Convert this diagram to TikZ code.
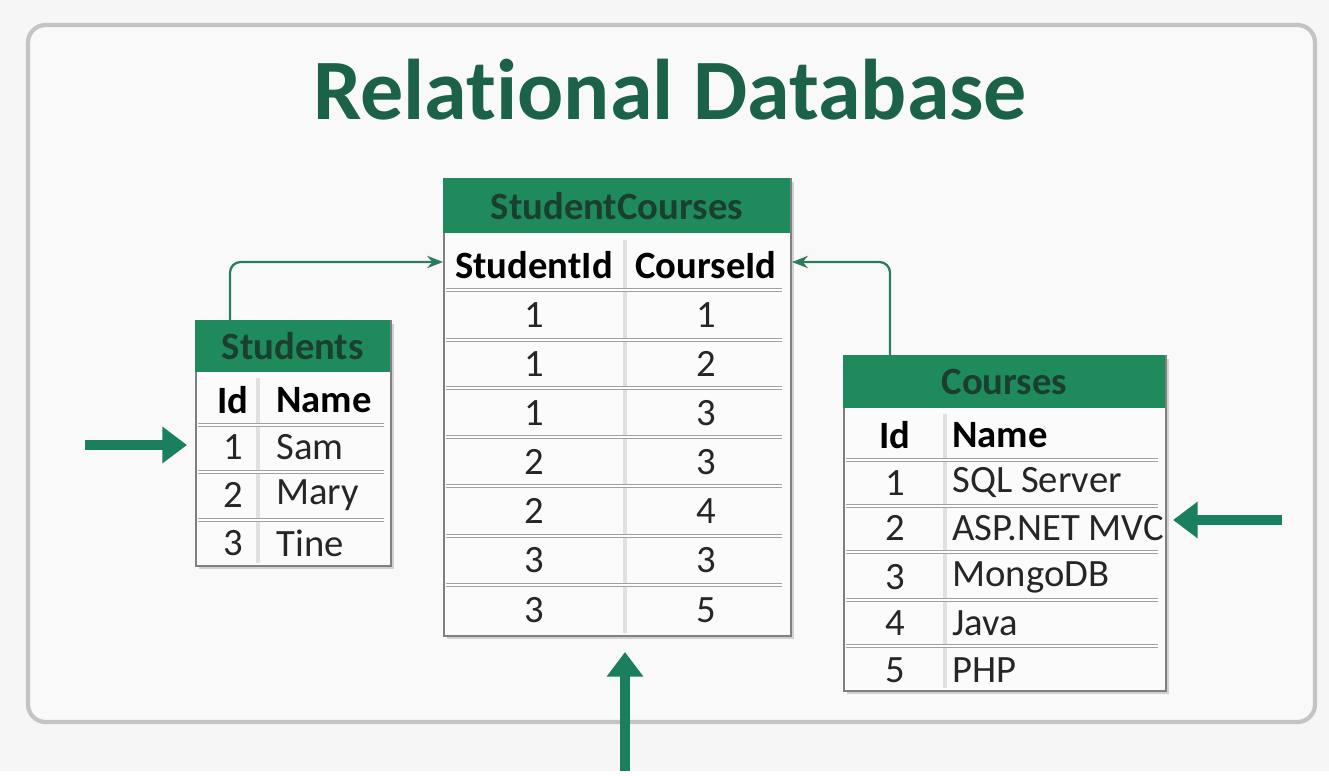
\documentclass[tikz,border=0pt]{standalone}
\usepackage{fontspec}
\setmainfont{Carlito}[Ligatures={NoCommon}]
\usetikzlibrary{arrows.meta,calc}
\definecolor{bg}{HTML}{F6F6F6}
\definecolor{hdr}{HTML}{1F8A5B}
\definecolor{hdrtxt}{HTML}{1B3F2E}
\definecolor{ttl}{HTML}{1B6248}
\definecolor{arr}{HTML}{1A7F5E}
\definecolor{conn}{HTML}{2E7A5C}
\definecolor{grid}{HTML}{A0A0A0}
\definecolor{frame}{HTML}{C4C4C4}
\begin{document}
\begin{tikzpicture}[x=0.02cm,y=-0.02cm,
  tbl/.style={draw=grid!80!black,line width=1.2pt,fill=white!60!bg,anchor=north west,inner sep=0pt},
  shadowbox/.style={fill=black!18,draw=none,anchor=north west,inner sep=0pt},
  hdrbox/.style={fill=hdr,draw=none,anchor=north west,inner sep=0pt,text=hdrtxt,font=\bfseries\fontsize{22}{24}\selectfont},
  colhead/.style={font=\bfseries\fontsize{22}{24}\selectfont,inner sep=0pt},
  cell/.style={font=\fontsize{22}{24}\selectfont,inner sep=0pt,text=black!85},
  lcell/.style={cell,anchor=west},
  lcolhead/.style={colhead,anchor=west},
  rowsep/.style={draw=grid,line width=0.6pt,double=white,double distance=1.4pt},
  colsep/.style={draw=black!12,line width=2.2pt},
  link/.style={draw=conn,line width=1.3pt,rounded corners=6pt,-{Stealth[length=9pt,width=7pt]}},
  bigarrow/.style={draw=arr,line width=5.5pt,-{Triangle[length=14pt,width=20pt]}}
]
% background and frame
\fill[bg] (0,0) rectangle (1329,771);
\draw[frame,line width=2.4pt,rounded corners=10pt,fill=bg!70!white] (28,25) rectangle (1315,722);

% title
\node[text=ttl,font=\bfseries\fontsize{49}{52}\selectfont] (title) at (670,90) {Relational Database};

% ---------------- StudentCourses ----------------
\node[shadowbox,minimum width=6.94cm,minimum height=9.14cm] (scsh) at (447,182) {};
\node[tbl,minimum width=6.94cm,minimum height=9.14cm] (sc) at (443,178) {};
\node[hdrbox,minimum width=6.94cm,minimum height=1.1cm] (schead) at (443,178) {StudentCourses};
\draw[colsep] (625,240) -- (625,633);
\node[colhead] (sc-c1) at (534,265) {StudentId};
\node[colhead] (sc-c2) at (706,265) {CourseId};
\foreach \y in {290,340,388,437,486,536,585}
  \draw[rowsep] (446,\y) -- (782,\y);
\foreach \a/\b/\y [count=\i] in {1/1/315,1/2/364,1/3/413,2/3/462,2/4/511,3/3/560,3/5/610}{
  \node[cell] (sc-a\i) at (534,\y) {\a};
  \node[cell] (sc-b\i) at (706,\y) {\b};
}

% ---------------- Students ----------------
\node[shadowbox,minimum width=3.9cm,minimum height=4.9cm] (stsh) at (199,324) {};
\node[tbl,minimum width=3.9cm,minimum height=4.9cm] (st) at (195,320) {};
\node[hdrbox,minimum width=3.9cm,minimum height=1.04cm] (sthead) at (195,320) {Students};
\draw[colsep] (258,378) -- (258,563);
\node[colhead] (st-c1) at (233,400) {Id};
\node[lcolhead] (st-c2) at (276,400) {Name};
\foreach \y in {425,472,520}
  \draw[rowsep] (198,\y) -- (384,\y);
\foreach \a/\b/\y [count=\i] in {1/Sam/447,2/Mary/495,3/Tine/543}{
  \node[cell] (st-a\i) at (233,\y) {\a};
  \node[lcell] (st-b\i) at (276,\y) {\b};
}

% ---------------- Courses ----------------
\node[shadowbox,minimum width=6.44cm,minimum height=6.7cm] (cosh) at (847,359) {};
\node[tbl,minimum width=6.44cm,minimum height=6.7cm] (co) at (843,355) {};
\node[hdrbox,minimum width=6.44cm,minimum height=1.06cm] (cohead) at (843,355) {Courses};
\draw[colsep] (945,414) -- (945,688);
\node[colhead] (co-c1) at (895,435) {Id};
\node[lcolhead] (co-c2) at (952,435) {Name};
\foreach \y in {460,506,552,600,646}
  \draw[rowsep] (846,\y) -- (1158,\y);
\foreach \a/\b/\y [count=\i] in {1/SQL Server/483,2/ASP.NET MVC/528,3/MongoDB/577,4/Java/623,5/PHP/670}{
  \node[cell] (co-a\i) at (895,\y) {\a};
  \node[lcell] (co-b\i) at (952,\y) {\b};
}

% ---------------- connectors ----------------
\coordinate (stTop) at ($(sthead.north west)+(35,0)$);
\coordinate (coTop) at ($(cohead.north west)+(47,0)$);
\coordinate (scL) at (sc.west |- 0,262);
\coordinate (scR) at (sc.east |- 0,262);
\draw[link] (stTop) |- (scL);
\draw[link] (coTop) |- (scR);

% big arrows
\coordinate (aL) at (85,445);
\coordinate (aR) at (1282,520);
\coordinate (aB) at (625,771);
\draw[bigarrow] (aL) -- ($(st.west |- aL)+(-8,0)$);
\draw[bigarrow] (aR) -- ($(co.east |- aR)+(6,0)$);
\draw[bigarrow] (aB) -- ($(aB |- sc.south)+(0,15)$);
\end{tikzpicture}
\end{document}
